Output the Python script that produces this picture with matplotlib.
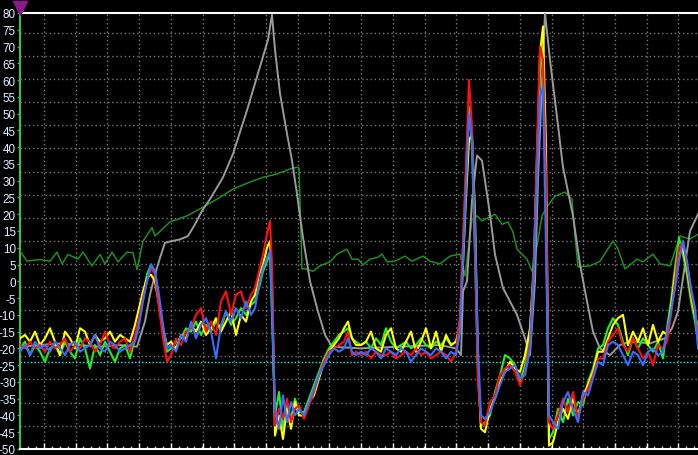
# pip install numpy matplotlib

import numpy as np
import matplotlib.pyplot as plt

plt.rcParams['axes.unicode_minus'] = False

# sample positions (shared by the four fast channels)
samples = [20, 25, 30, 35, 40, 45, 50, 55, 60, 65, 70, 75, 80, 85, 90, 95, 100, 105, 110, 115, 120, 125, 130, 135,
           139, 143, 147, 151, 155, 159, 163, 167,
           171, 176, 181, 186, 191, 196, 201, 206, 211, 216, 221, 226, 231, 236, 241, 246, 251,
           255, 259, 263, 267, 270, 272,
           275, 279, 283, 287, 291, 295, 299,
           304, 309, 314, 319, 324, 329, 334, 339, 344, 348, 352, 356,
           361, 366, 371, 376, 381, 386, 391, 396, 401, 406, 411, 416, 421, 426, 431, 436, 441, 446, 451, 456,
           460, 463, 466, 469, 472, 475, 478, 481,
           485, 490, 495, 500, 505, 510, 515, 520, 525, 530,
           534, 537, 540, 543, 546, 549,
           553, 558, 563, 568, 573, 578, 583, 588, 593, 598,
           603, 608, 613, 618, 623, 628, 633, 638, 643, 648, 653, 658, 663,
           667, 671, 675, 679, 683, 687, 691, 695, 698]

green_ch = [-20, -18, -22, -19, -21, -24, -20, -19, -22, -18, -21, -23, -17, -20, -26, -19, -22, -18, -21, -24, -20, -19, -23, -17,
            -12, -4, 2, 5, 3, -6, -15, -21,
            -20, -18, -17, -14, -15, -12, -16, -13, -15, -12, -14, -9, -13, -11, -8, -10, -7,
            -6, -2, 3, 6, 8, -10,
            -40, -33, -44, -37, -41, -35, -39,
            -39, -35, -31, -27, -23, -20, -18, -16, -15, -14, -17, -18,
            -19, -18, -20, -17, -19, -14, -18, -20, -19, -18, -20, -19, -17, -19, -20, -18, -19, -17, -19, -18,
            -12, 10, 32, 52, 40, 8, -28, -43,
            -42, -40, -33, -28, -22, -23, -25, -30, -25, -16,
            8, 38, 62, 70, 20, -47,
            -45, -38, -42, -35, -40, -36, -37, -30, -26, -20,
            -19, -14, -11, -13, -18, -22, -17, -20, -17, -19, -21, -18, -23,
            -14, -6, 4, 13, 8, 2, -6, -12, -18]

yellow_ch = [-17, -16, -18, -15, -19, -17, -14, -18, -22, -15, -17, -20, -14, -15, -19, -16, -18, -17, -15, -18, -16, -17, -18, -13,
             -8, -3, 1, 2, 0, -7, -14, -19,
             -18, -20, -16, -17, -13, -15, -12, -16, -14, -11, -15, -12, -9, -16, -10, -12, -6,
             -4, 2, 5, 10, 12, 0,
             -46, -40, -47, -38, -44, -36, -40,
             -40, -36, -34, -29, -24, -21, -19, -17, -14, -12, -17, -19,
             -19, -18, -15, -20, -21, -16, -14, -20, -21, -18, -15, -21, -18, -14, -20, -15, -21, -16, -19, -18,
             -14, 5, 25, 42, 44, 20, -25, -44,
             -45, -38, -35, -30, -27, -24, -26, -27, -22, -14,
             4, 35, 68, 76, 40, -49,
             -48, -42, -38, -41, -35, -40, -34, -31, -27, -21,
             -21, -17, -13, -11, -10, -19, -15, -18, -14, -19, -13, -18, -15,
             -16, -8, 2, 8, 10, 4, -4, -10, -14]

red_ch = [-19, -20, -18, -20, -19, -21, -18, -20, -19, -17, -21, -19, -20, -17, -18, -21, -19, -15, -19, -20, -18, -17, -21, -16,
          -11, -5, 0, 4, 2, -8, -17, -24,
          -22, -17, -19, -15, -14, -10, -8, -15, -12, -16, -6, -3, -10, -4, -3, -8, -4,
          -2, 3, 8, 14, 18, 5,
          -43, -38, -41, -35, -42, -38, -37,
          -41, -37, -33, -28, -24, -21, -20, -19, -18, -15, -22, -21,
          -22, -21, -23, -21, -22, -22, -21, -23, -22, -21, -22, -20, -22, -21, -23, -22, -21, -22, -24, -21,
          -10, 12, 35, 60, 46, 10, -30, -42,
          -43, -36, -34, -28, -26, -25, -27, -31, -27, -18,
          6, 40, 70, 66, 30, -42,
          -44, -40, -35, -39, -33, -41, -35, -32, -28, -23,
          -23, -18, -16, -14, -19, -21, -17, -20, -23, -21, -25, -19, -20,
          -18, -10, 0, 10, 12, 5, -3, -9, -16]

blue_ch = [-21, -19, -22, -18, -20, -19, -21, -18, -20, -22, -19, -18, -21, -20, -19, -16, -20, -21, -18, -19, -21, -20, -19, -18,
           -13, -6, 0, 5, 3, -4, -13, -20,
           -19, -21, -16, -18, -12, -17, -13, -11, -15, -23, -13, -9, -12, -8, -11, -6, -10,
           -8, -1, 4, 7, 9, -8,
           -38, -44, -34, -42, -36, -40, -38,
           -40, -36, -32, -28, -25, -22, -20, -21, -20, -17, -21, -22,
           -21, -22, -20, -21, -23, -20, -21, -22, -20, -21, -24, -22, -20, -21, -22, -20, -21, -23, -21, -22,
           -15, 6, 28, 50, 42, 15, -20, -40,
           -41, -39, -35, -31, -27, -26, -25, -29, -28, -20,
           2, 30, 55, 58, 10, -40,
           -42, -44, -36, -33, -38, -42, -33, -34, -29, -24,
           -25, -19, -18, -19, -22, -25, -21, -22, -25, -21, -20, -22, -21,
           -15, -9, -2, 6, 12, 6, -2, -8, -20]

# slow grey channel
grey_x = [20, 40, 60, 80, 100, 120, 137, 145, 150, 155, 160, 165, 172, 180, 188, 195, 202, 210, 223, 233,
          247, 260, 268, 272, 275, 280, 287, 292, 297, 303, 310, 318, 325, 332, 360, 400, 440, 456, 461, 463,
          467, 472, 477, 482, 490, 495, 503, 510, 517, 525, 530, 535, 538, 542, 545, 550, 557, 563, 573, 580,
          587, 593, 600, 610, 620, 630, 650, 665, 672, 678, 683, 690, 698]
grey_y = [-19.5, -19, -18.5, -19, -19.5, -19, -19.5, -12, -4, 2, 7, 11.5, 12, 12.5, 13.5, 17, 21, 24.5, 31, 38,
          51, 64, 72, 79.5, 69, 56, 44, 36, 26, 13, 0, -9, -16, -19.5, -20, -19.5, -19, -20, -22, -3,
          0, 24, 37.5, 36, 20, 8, -2, -6, -10, -17, -22, 0, 30, 59, 80, 66, 49, 34, 19.5, 5,
          -6, -15, -20, -22, -19, -18, -18.5, -17, -14, -9, 1, 15, 20]

# dark green channel
dkgreen_x = [20, 27, 40, 50, 57, 62, 68, 78, 83, 92, 100, 105, 112, 118, 127, 133, 137, 143, 152, 155,
             170, 187, 200, 217, 233, 250, 263, 277, 290, 297, 299, 302, 306, 313, 320, 330, 337, 347, 352, 358,
             363, 370, 378, 382, 387, 395, 405, 412, 423, 430, 440, 450, 460, 465, 472, 477, 482, 495, 502, 508,
             513, 517, 527, 532, 537, 542, 547, 555, 565, 572, 575, 578, 590, 600, 613, 618, 625, 637, 643, 653,
             660, 670, 680, 690, 698]
dkgreen_y = [9, 6, 6.5, 6, 8.7, 5.2, 8, 6.6, 8.7, 4.6, 8, 5.2, 8.7, 5.8, 8.7, 8.5, 3.5, 12, 16, 13.5,
             17.7, 19.5, 21.6, 24.5, 27.5, 29.6, 31, 32, 33.5, 34, 33.8, 3.7, 3.7, 3, 4.6, 5.8, 8.1, 9.6, 6.6, 6.6,
             4.9, 6.6, 7.2, 8.1, 5.8, 6, 7.5, 6, 7.5, 6, 5.2, 7.5, 8.1, 1.6, 18.6, 19.5, 18, 20, 17, 17.7,
             14.7, 9.6, 6.6, 3, 10.5, 19.5, 22.2, 25.4, 26.6, 24.5, 13.5, 4.3, 4.6, 6, 12, 9.6, 3.7, 6.6, 5.8, 8.1,
             5.2, 4.6, 13.5, 12.6, 14]

y_ticks = list(range(-50, 81, 5))
trigger_level = -24

fig = plt.figure(figsize=(6.98, 4.56), dpi=100, facecolor='black')
ax = fig.add_axes([20 / 698, 6 / 456, 678 / 698, 436 / 456], facecolor='black')
ax.set_xlim(20, 698)
ax.set_ylim(-50, 80)

# grid (dotted, not aligned with the value ticks)
for gx in 44 + 31.72 * np.arange(21):
    ax.axvline(gx, color='#7a7a7a', lw=1, ls=(0, (1, 2)), zorder=1)
for gy in 74.04 - 6.887 * np.arange(18):
    ax.axhline(gy, color='#7a7a7a', lw=1, ls=(0, (1, 2)), zorder=1)

ax.axhline(trigger_level, color='#00ffff', lw=1, ls=(0, (1, 1.5)), zorder=2)

ax.plot(dkgreen_x, dkgreen_y, color='#1f8f1f', lw=1.1, zorder=3)
ax.plot(grey_x, grey_y, color='#9a9a9a', lw=1.4, zorder=3)
ax.plot(samples, green_ch, color='#22ee22', lw=1.5, zorder=4)
ax.plot(samples, yellow_ch, color='#ffff00', lw=1.5, zorder=5)
ax.plot(samples, red_ch, color='#ff1010', lw=1.5, zorder=6)
ax.plot(samples, blue_ch, color='#3a6cff', lw=1.5, zorder=7)

# trigger marker above the axis
ax.plot(20, 81.6, marker='v', markersize=10, color='#8a1a8a', clip_on=False, zorder=10)

ax.set_yticks(y_ticks)
ax.set_yticklabels([str(v) for v in y_ticks], fontsize=8.4, family='Liberation Sans', color='#e2f0ff')
ax.tick_params(axis='y', colors='#40c040', length=2.5, width=1, pad=0.5, labelcolor='#e2f0ff')

ax.set_xticks(44 + 31.72 * np.arange(21))
ax.set_xticks(20 + 7.93 * np.arange(86), minor=True)
ax.tick_params(axis='x', which='major', direction='in', colors='white', length=4, width=1, labelbottom=False)
ax.tick_params(axis='x', which='minor', direction='in', colors='#cccccc', length=2.5, width=1)

ax.spines['left'].set_color('#40c040')
ax.spines['left'].set_linewidth(1.5)
ax.spines['top'].set_color('white')
ax.spines['top'].set_linewidth(1.5)
ax.spines['bottom'].set_color('white')
ax.spines['bottom'].set_linewidth(1.5)
ax.spines['right'].set_visible(False)

fig.savefig('out.png', dpi=100, facecolor='black')
